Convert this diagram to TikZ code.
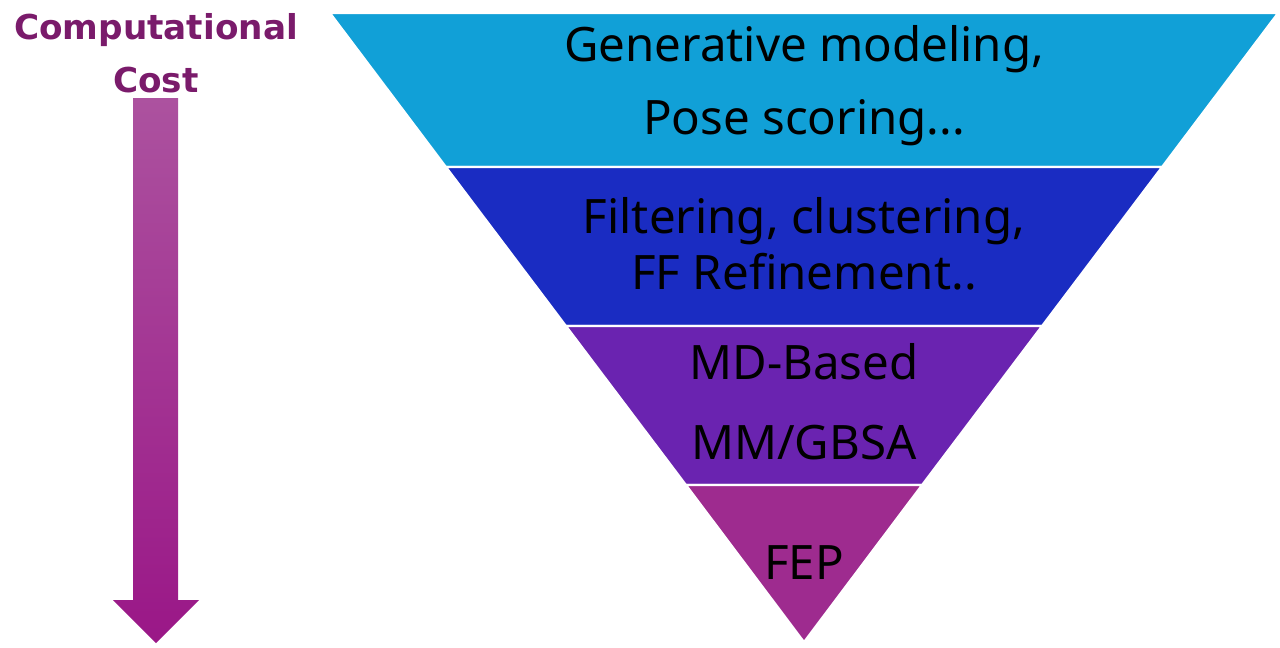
\documentclass[tikz,border=0pt]{standalone}
\usepackage{fontspec}
\setmainfont{Noto Sans}
\newfontfamily\costfont{DejaVu Sans}
\usetikzlibrary{positioning}

\definecolor{layerA}{HTML}{11A0D7}
\definecolor{layerB}{HTML}{1A2CC2}
\definecolor{layerC}{HTML}{6A23B0}
\definecolor{layerD}{HTML}{9E2B8F}
\definecolor{costpurple}{HTML}{7A1B6B}
\definecolor{arrowtop}{HTML}{AC529F}
\definecolor{arrowbot}{HTML}{9A1787}

\tikzset{
  layer/.style={draw=white, line width=1.2pt},
  layertext/.style={font=\fontsize{27}{32}\selectfont, text=black, anchor=base, inner sep=0pt},
  costtext/.style={font=\costfont\bfseries\fontsize{19.5}{23}\selectfont, text=costpurple, anchor=base, inner sep=0pt}
}

\begin{document}
\begin{tikzpicture}[x=0.02cm,y=-0.02cm]
        \useasboundingbox (0,0) rectangle (1280,647);

        % Cost label
        \node[costtext] (costA) at (156,39) {Computational};
        \node[costtext] (costB) at (156,92) {Cost};

        % Cost arrow
        \shade[top color=arrowtop, bottom color=arrowbot]
          (133,98) -- (178,98) -- (178,600) -- (199,600) -- (156,643)
          -- (113,600) -- (133,600) -- cycle;

        % Funnel layers
        \filldraw[layer, fill=layerA] (330,13) -- (1278,13) -- (1162,167) -- (446,167) -- cycle;
        \filldraw[layer, fill=layerB] (446,167) -- (1162,167) -- (1042,326) -- (566,326) -- cycle;
        \filldraw[layer, fill=layerC] (566,326) -- (1042,326) -- (922,485) -- (686,485) -- cycle;
        \filldraw[layer, fill=layerD] (686,485) -- (922,485) -- (804,642) -- cycle;

        % Layer labels
        \node[layertext] (genA) at (804,61) {Generative modeling,};
        \node[layertext] (genB) at (804,134) {Pose scoring...};
        \node[layertext] (filtA) at (804,233) {Filtering, clustering,};
        \node[layertext] (filtB) at (804,289) {FF Refinement..};
        \node[layertext] (mdA) at (804,379) {MD-Based};
        \node[layertext] (mdB) at (804,459) {MM/GBSA};
        \node[layertext] (fep) at (804,579) {FEP};
\end{tikzpicture}
\end{document}
